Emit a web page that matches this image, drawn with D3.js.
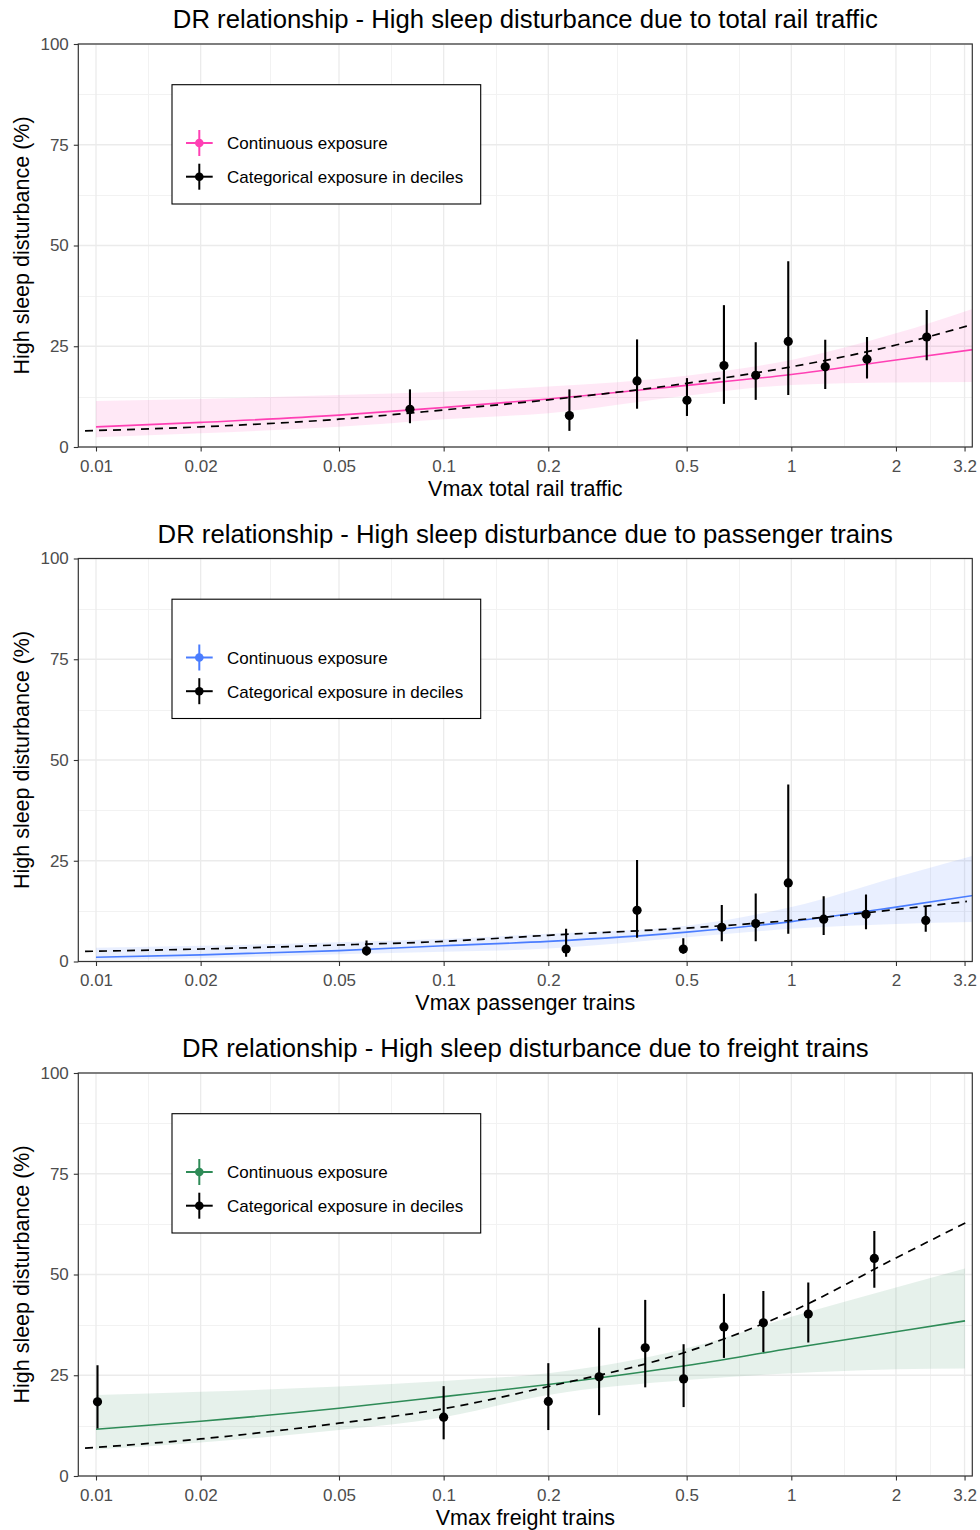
<!DOCTYPE html>
<html>
<head>
<meta charset="utf-8">
<script src="https://cdn.jsdelivr.net/npm/d3@7"></script>
<style>
  html, body { margin: 0; padding: 0; background: #fff; }
  svg { display: block; font-family: "Liberation Sans", Arial, Helvetica, sans-serif; }
</style>
</head>
<body>
<svg id="chart" width="980" height="1530"></svg>
<script>
// ---- Tick values and labels ----
const xTickValues = [0.01, 0.02, 0.05, 0.1, 0.2, 0.5, 1, 2, 3.15];
const xTickLabels = ["0.01", "0.02", "0.05", "0.1", "0.2", "0.5", "1", "2", "3.2"];
const yTickValues = [0, 25, 50, 75, 100];
const yMinorValues = [12.5, 37.5, 62.5, 87.5];

const panelTitles = [
  "DR relationship - High sleep disturbance due to total rail traffic",
  "DR relationship - High sleep disturbance due to passenger trains",
  "DR relationship - High sleep disturbance due to freight trains"
];
const xAxisTitles = ["Vmax total rail traffic", "Vmax passenger trains", "Vmax freight trains"];
const yAxisTitle = "High sleep disturbance (%)";
const legendLabels = ["Continuous exposure", "Categorical exposure in deciles"];
const seriesColors = ["#FF40B4", "#4A7DFF", "#2E8B57"];

// ---- Categorical exposure (deciles): x, estimate, lower, upper ----
const totalCatX  = [0.080, 0.230, 0.360, 0.501, 0.640, 0.790, 0.980, 1.252, 1.651, 2.452];
const totalCatY  = [9.35, 7.8, 16.4, 11.6, 20.2, 17.8, 26.2, 19.9, 21.8, 27.3];
const totalCatLo = [5.9, 4.0, 9.5, 7.7, 10.7, 11.7, 12.9, 14.4, 17.0, 21.5];
const totalCatHi = [14.3, 14.3, 26.7, 17.1, 35.2, 26.0, 46.1, 26.6, 27.3, 34.0];

const passCatX  = [0.060, 0.225, 0.360, 0.489, 0.631, 0.790, 0.980, 1.239, 1.640, 2.436];
const passCatY  = [2.65, 3.1, 12.7, 3.1, 8.5, 9.4, 19.5, 10.5, 11.7, 10.2];
const passCatLo = [1.5, 1.2, 5.9, 1.9, 5.0, 5.0, 6.9, 6.6, 8.0, 7.4];
const passCatHi = [5.2, 8.1, 25.2, 5.8, 14.0, 16.9, 43.9, 16.2, 16.6, 13.8];

const freightCatX  = [0.0101, 0.100, 0.200, 0.280, 0.380, 0.490, 0.640, 0.831, 1.119, 1.733];
const freightCatY  = [18.4, 14.6, 18.5, 24.6, 31.8, 24.1, 37.0, 38.0, 40.2, 54.0];
const freightCatLo = [11.8, 9.1, 11.4, 15.1, 22.0, 17.1, 29.3, 30.8, 33.1, 46.7];
const freightCatHi = [27.5, 22.3, 28.0, 36.8, 43.7, 32.7, 45.2, 45.9, 48.0, 60.8];

// ---- Continuous exposure curve with confidence band ----
const totalContX  = [0.01, 0.02, 0.05, 0.1, 0.2, 0.5, 1, 2, 3.35];
const totalContY  = [5.0, 6.1, 7.9, 9.8, 11.9, 15.3, 18.0, 21.6, 24.2];
const totalContLo = [2.4, 3.4, 5.0, 6.9, 8.4, 12.7, 15.4, 16.0, 16.1];
const totalContHi = [11.4, 11.9, 12.9, 13.7, 15.0, 17.7, 21.6, 28.2, 34.4];

const passContX  = [0.01, 0.02, 0.05, 0.1, 0.2, 0.5, 1, 2, 3.35];
const passContY  = [1.07, 1.65, 2.7, 3.9, 5.0, 7.3, 9.9, 13.5, 16.4];
const passContLo = [0.4, 0.8, 1.8, 2.4, 3.2, 6.0, 8.1, 9.3, 9.8];
const passContHi = [3.4, 3.9, 4.8, 5.6, 6.9, 8.9, 13.5, 20.9, 26.3];

const freightContX  = [0.01, 0.02, 0.05, 0.1, 0.2, 0.5, 1, 2, 3.16];
const freightContY  = [11.6, 13.6, 16.8, 19.7, 22.7, 27.4, 31.7, 35.8, 38.5];
const freightContLo = [6.6, 8.3, 11.4, 14.6, 20.1, 23.8, 25.5, 26.5, 26.7];
const freightContHi = [20.1, 20.9, 22.2, 23.6, 25.5, 31.7, 39.5, 46.8, 51.5];

// ---- Fitted trend over the decile estimates (dashed) ----
const totalTrendX = [0.0093, 0.02, 0.05, 0.1, 0.2, 0.5, 1, 2, 3.2];
const totalTrendY = [4.0, 5.0, 6.9, 9.2, 11.7, 15.8, 19.9, 25.3, 30.0];

const passTrendX = [0.0093, 0.02, 0.05, 0.1, 0.2, 0.5, 1, 2, 3.2];
const passTrendY = [2.5, 3.1, 4.1, 5.0, 6.5, 8.3, 10.2, 12.9, 14.9];

const freightTrendX = [0.0093, 0.02, 0.05, 0.1, 0.2, 0.5, 1, 2, 3.25];
const freightTrendY = [6.9, 9.2, 13.1, 16.7, 22.2, 30.8, 40.8, 54.1, 63.3];

const panels = [
  { title: panelTitles[0], xTitle: xAxisTitles[0], color: seriesColors[0],
    cat: [totalCatX, totalCatY, totalCatLo, totalCatHi],
    cont: [totalContX, totalContY, totalContLo, totalContHi],
    trend: [totalTrendX, totalTrendY] },
  { title: panelTitles[1], xTitle: xAxisTitles[1], color: seriesColors[1],
    cat: [passCatX, passCatY, passCatLo, passCatHi],
    cont: [passContX, passContY, passContLo, passContHi],
    trend: [passTrendX, passTrendY] },
  { title: panelTitles[2], xTitle: xAxisTitles[2], color: seriesColors[2],
    cat: [freightCatX, freightCatY, freightCatLo, freightCatHi],
    cont: [freightContX, freightContY, freightContLo, freightContHi],
    trend: [freightTrendX, freightTrendY] }
];

// ---- Layout ----
const svg = d3.select("#chart");
const left = 78.3, right = 972.3, panelH = 403;
const tops = [44, 558.5, 1073];

const x = d3.scaleLog()
  .domain([Math.pow(10, -2.0509), Math.pow(10, 0.5206)])
  .range([left, right]);

// minor breaks sit halfway between majors on the log scale
const xMinorValues = d3.pairs(xTickValues).map(([a, b]) => Math.sqrt(a * b));
// snap hairlines onto the pixel grid so they stay crisp
const snap = v => Math.round(v) + 0.5;

panels.forEach((p, i) => {
  const top = tops[i], bottom = top + panelH;
  const y = d3.scaleLinear().domain([0, 100]).range([bottom, top]);
  const g = svg.append("g");

  const clipId = "clip" + i;
  svg.append("clipPath").attr("id", clipId)
    .append("rect").attr("x", left).attr("y", top)
    .attr("width", right - left).attr("height", panelH);

  // grid
  const grid = g.append("g");
  grid.selectAll(".ymin").data(yMinorValues).enter().append("line")
    .attr("x1", left).attr("x2", right)
    .attr("y1", d => snap(y(d))).attr("y2", d => snap(y(d)))
    .attr("stroke", "#f2f2f2").attr("stroke-width", 1);
  grid.selectAll(".xmin").data(xMinorValues).enter().append("line")
    .attr("x1", d => snap(x(d))).attr("x2", d => snap(x(d)))
    .attr("y1", top).attr("y2", bottom)
    .attr("stroke", "#f2f2f2").attr("stroke-width", 1);
  grid.selectAll(".ymaj").data(yTickValues).enter().append("line")
    .attr("x1", left).attr("x2", right)
    .attr("y1", d => y(d)).attr("y2", d => y(d))
    .attr("stroke", "#ebebeb").attr("stroke-width", 1.3);
  grid.selectAll(".xmaj").data(xTickValues).enter().append("line")
    .attr("x1", d => x(d)).attr("x2", d => x(d))
    .attr("y1", top).attr("y2", bottom)
    .attr("stroke", "#ebebeb").attr("stroke-width", 1.3);

  const plot = g.append("g").attr("clip-path", `url(#${clipId})`);

  // confidence band + continuous curve
  const [cx, cy, clo, chi] = p.cont;
  const contData = cx.map((v, k) => ({ x: v, y: cy[k], lo: clo[k], hi: chi[k] }));
  plot.append("path").datum(contData)
    .attr("d", d3.area().curve(d3.curveMonotoneX)
      .x(d => x(d.x)).y0(d => y(d.lo)).y1(d => y(d.hi)))
    .attr("fill", p.color).attr("fill-opacity", 0.12);
  plot.append("path").datum(contData)
    .attr("d", d3.line().curve(d3.curveMonotoneX).x(d => x(d.x)).y(d => y(d.y)))
    .attr("fill", "none").attr("stroke", p.color).attr("stroke-width", 1.6);

  // dashed trend
  const [tx, ty] = p.trend;
  plot.append("path").datum(tx.map((v, k) => ({ x: v, y: ty[k] })))
    .attr("d", d3.line().curve(d3.curveMonotoneX).x(d => x(d.x)).y(d => y(d.y)))
    .attr("fill", "none").attr("stroke", "#000").attr("stroke-width", 1.7)
    .attr("stroke-dasharray", "8,6");

  // decile estimates with intervals
  const [kx, ky, klo, khi] = p.cat;
  const catData = kx.map((v, k) => ({ x: v, y: ky[k], lo: klo[k], hi: khi[k] }));
  plot.selectAll(".err").data(catData).enter().append("line")
    .attr("x1", d => x(d.x)).attr("x2", d => x(d.x))
    .attr("y1", d => y(d.lo)).attr("y2", d => y(d.hi))
    .attr("stroke", "#000").attr("stroke-width", 2.1);
  plot.selectAll(".pt").data(catData).enter().append("circle")
    .attr("cx", d => x(d.x)).attr("cy", d => y(d.y)).attr("r", 4.6)
    .attr("fill", "#000");

  // panel border
  g.append("rect").attr("x", left).attr("y", top)
    .attr("width", right - left).attr("height", panelH)
    .attr("fill", "none").attr("stroke", "#333").attr("stroke-width", 1.2);

  // axes
  const xAxis = g.append("g").attr("transform", `translate(0,${bottom})`)
    .call(d3.axisBottom(x).tickValues(xTickValues)
      .tickFormat((d, k) => xTickLabels[k]).tickSize(4.5).tickPadding(4));
  const yAxis = g.append("g").attr("transform", `translate(${left},0)`)
    .call(d3.axisLeft(y).tickValues(yTickValues).tickSize(4.5).tickPadding(5));
  [xAxis, yAxis].forEach(ax => {
    ax.select(".domain").remove();
    ax.selectAll(".tick line").attr("stroke", "#333").attr("stroke-width", 1.1);
    ax.selectAll(".tick text").attr("fill", "#4d4d4d")
      .style("font-size", "17px").style("font-family", "'Liberation Sans', Arial, sans-serif");
  });
  xAxis.selectAll(".tick text").attr("dy", "0.95em");

  // titles
  g.append("text").attr("x", (left + right) / 2).attr("y", top - 16)
    .attr("text-anchor", "middle").style("font-size", "25.7px").attr("fill", "#000")
    .text(p.title);
  g.append("text").attr("x", (left + right) / 2).attr("y", bottom + 48.5)
    .attr("text-anchor", "middle").style("font-size", "21.5px").attr("fill", "#000")
    .text(p.xTitle);
  g.append("text")
    .attr("transform", `translate(28.5,${(top + bottom) / 2}) rotate(-90)`)
    .attr("text-anchor", "middle").style("font-size", "21.5px").attr("fill", "#000")
    .text(yAxisTitle);

  // legend
  const lg = g.append("g");
  lg.append("rect").attr("x", 172).attr("y", top + 40.7)
    .attr("width", 308.7).attr("height", 119.3)
    .attr("fill", "#fff").attr("stroke", "#000").attr("stroke-width", 1.1);
  const keyColors = [p.color, "#000"];
  legendLabels.forEach((lab, k) => {
    const cyK = top + 99 + k * 33.7;
    const c = keyColors[k];
    lg.append("line").attr("x1", 186).attr("x2", 212.7)
      .attr("y1", cyK).attr("y2", cyK).attr("stroke", c).attr("stroke-width", 2);
    lg.append("line").attr("x1", 199.3).attr("x2", 199.3)
      .attr("y1", cyK - 13).attr("y2", cyK + 13).attr("stroke", c).attr("stroke-width", 2);
    lg.append("circle").attr("cx", 199.3).attr("cy", cyK).attr("r", 4.3).attr("fill", c);
    lg.append("text").attr("x", 227).attr("y", cyK + 6.3)
      .style("font-size", "17px").attr("fill", "#000").text(lab);
  });
});
</script>
</body>
</html>
